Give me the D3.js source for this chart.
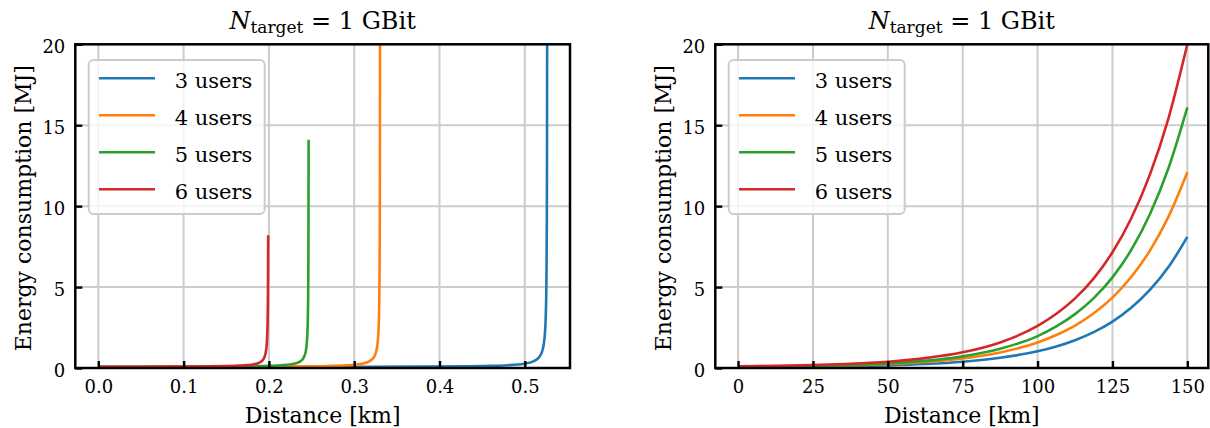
<!DOCTYPE html>
<html><head><meta charset="utf-8">
<script src="https://cdn.jsdelivr.net/npm/d3@7"></script>
<style>
html,body{margin:0;padding:0;background:#fff;}
svg{display:block;}
text{font-family:'DejaVu Serif','Liberation Serif',serif;fill:#000;}
</style></head><body>
<svg id="chart" width="1210" height="428"></svg>
<script>
// ---------- data ----------
const seriesLabels = ["3 users", "4 users", "5 users", "6 users"];
const yTicks = [0, 5, 10, 15, 20];
const yTickLabels = ["0", "5", "10", "15", "20"];
const xTicksShort = [0, 0.1, 0.2, 0.3, 0.4, 0.5];
const xTickLabelsShort = ["0.0", "0.1", "0.2", "0.3", "0.4", "0.5"];
const xTicksLong = [0, 25, 50, 75, 100, 125, 150];
const xTickLabelsLong = ["0", "25", "50", "75", "100", "125", "150"];

// left panel (short distances, km)
const shortDist3 = [0, 0.1, 0.2, 0.3, 0.38, 0.43, 0.46, 0.48, 0.4915, 0.5015, 0.5085, 0.5135, 0.5175, 0.5205, 0.5225, 0.5237, 0.5247, 0.5254, 0.5258, 0.52605, 0.5262];
const shortEnergy3 = [0.052, 0.054, 0.059, 0.067, 0.082, 0.103, 0.132, 0.171, 0.214, 0.284, 0.379, 0.509, 0.718, 1.057, 1.565, 2.22, 3.43, 5.59, 8.75, 13.6, 20.3];
const shortDist4 = [0, 0.05, 0.1, 0.15, 0.2, 0.24, 0.27, 0.29, 0.303, 0.3105, 0.3155, 0.3205, 0.3235, 0.3255, 0.327, 0.328, 0.3288, 0.3294, 0.3298, 0.33005, 0.33025, 0.33028];
const shortEnergy4 = [0.064, 0.066, 0.07, 0.076, 0.085, 0.101, 0.126, 0.164, 0.217, 0.28, 0.357, 0.51, 0.707, 0.97, 1.36, 1.89, 2.76, 4.23, 6.62, 10.27, 18.45, 20.9];
const shortDist5 = [0, 0.05, 0.1, 0.15, 0.18, 0.2, 0.215, 0.225, 0.2318, 0.2368, 0.2398, 0.2418, 0.2433, 0.2443, 0.2451, 0.2457, 0.2461, 0.24635, 0.24655];
const shortEnergy5 = [0.074, 0.078, 0.084, 0.096, 0.112, 0.135, 0.17, 0.221, 0.293, 0.41, 0.56, 0.76, 1.06, 1.46, 2.12, 3.24, 5.06, 7.84, 14.1];
const shortDist6 = [0, 0.05, 0.1, 0.13, 0.15, 0.165, 0.175, 0.1815, 0.1865, 0.1895, 0.1925, 0.1945, 0.196, 0.197, 0.1978, 0.1984, 0.1988, 0.19905, 0.19914];
const shortEnergy6 = [0.075, 0.079, 0.089, 0.102, 0.119, 0.144, 0.178, 0.221, 0.283, 0.35, 0.474, 0.64, 0.889, 1.22, 1.77, 2.7, 4.2, 6.5, 8.2];

// right panel (long distances, km)
const longDist = [0, 12.5, 25, 37.5, 50, 62.5, 75, 87.5, 100, 106.25, 112.5, 118.75, 125, 131.25, 137.5, 143.75, 150];
const longEnergy3 = [0.055, 0.066, 0.083, 0.113, 0.163, 0.248, 0.39, 0.63, 1.03, 1.33, 1.72, 2.22, 2.87, 3.72, 4.82, 6.25, 8.1];
const longEnergy4 = [0.066, 0.083, 0.10, 0.15, 0.23, 0.37, 0.59, 0.96, 1.58, 2.04, 2.62, 3.38, 4.35, 5.62, 7.25, 9.37, 12.1];
const longEnergy5 = [0.07, 0.09, 0.12, 0.18, 0.28, 0.44, 0.72, 1.19, 1.97, 2.57, 3.33, 4.32, 5.6, 7.29, 9.5, 12.37, 16.1];
const longEnergy6 = [0.11, 0.14, 0.19, 0.26, 0.39, 0.61, 0.97, 1.58, 2.6, 3.35, 4.3, 5.54, 7.15, 9.24, 11.95, 15.46, 20.0];

// ---------- styles / layout ----------
const colors = ["#1f77b4", "#ff7f0e", "#2ca02c", "#d62728"];
const plotTop = 44.3, plotBottom = 368;

const panels = [
  {
    left: 75.3, right: 570, xDomain: [-0.027, 0.553],
    xTicks: xTicksShort, xLabels: xTickLabelsShort, curve: d3.curveMonotoneX,
    series: [[shortDist3, shortEnergy3], [shortDist4, shortEnergy4], [shortDist5, shortEnergy5], [shortDist6, shortEnergy6]]
  },
  {
    left: 715.3, right: 1208.3, xDomain: [-7.6, 157],
    xTicks: xTicksLong, xLabels: xTickLabelsLong, curve: d3.curveMonotoneX,
    series: [[longDist, longEnergy3], [longDist, longEnergy4], [longDist, longEnergy5], [longDist, longEnergy6]]
  }
];

const svg = d3.select("#chart");

panels.forEach((p, pi) => {
  const x = d3.scaleLinear().domain(p.xDomain).range([p.left, p.right]);
  const y = d3.scaleLinear().domain([0, 20]).range([plotBottom, plotTop]);
  const g = svg.append("g");
  const w = p.right - p.left, h = plotBottom - plotTop;

  const clipId = "clip" + pi;
  svg.append("clipPath").attr("id", clipId)
    .append("rect").attr("x", p.left).attr("y", plotTop).attr("width", w).attr("height", h);

  // grid
  const grid = g.append("g");
  grid.selectAll("line.gx").data(p.xTicks).join("line").attr("class", "gx")
    .attr("x1", d => x(d)).attr("x2", d => x(d)).attr("y1", plotTop).attr("y2", plotBottom)
    .attr("stroke", "#cccccc").attr("stroke-width", 2);
  grid.selectAll("line.gy").data(yTicks).join("line").attr("class", "gy")
    .attr("x1", p.left).attr("x2", p.right).attr("y1", d => y(d)).attr("y2", d => y(d))
    .attr("stroke", "#cccccc").attr("stroke-width", 2);

  // lines
  const line = d3.line().x(d => x(d[0])).y(d => y(d[1])).curve(p.curve);
  const lg = g.append("g").attr("clip-path", `url(#${clipId})`);
  p.series.forEach((s, i) => {
    const pts = s[0].map((v, k) => [v, s[1][k]]);
    lg.append("path").datum(pts).attr("d", line)
      .attr("fill", "none").attr("stroke", colors[i]).attr("stroke-width", 2.6)
      .attr("stroke-linejoin", "round").attr("stroke-linecap", "butt");
  });

  // axes
  const xAxis = d3.axisBottom(x).tickValues(p.xTicks).tickFormat((d, i) => p.xLabels[i]).tickSize(-7).tickPadding(0);
  const xa = g.append("g").attr("transform", `translate(0,${plotBottom})`).call(xAxis);
  xa.select(".domain").remove();
  xa.selectAll(".tick line").attr("stroke", "#000").attr("stroke-width", 2.4);
  xa.selectAll(".tick text").attr("y", 25).attr("dy", null)
    .attr("font-family", "'DejaVu Serif', serif").attr("font-size", 18).attr("fill", "#000");

  const yAxis = d3.axisLeft(y).tickValues(yTicks).tickFormat((d, i) => yTickLabels[i]).tickSize(-7).tickPadding(10);
  const ya = g.append("g").attr("transform", `translate(${p.left},0)`).call(yAxis);
  ya.select(".domain").remove();
  ya.selectAll(".tick line").attr("stroke", "#000").attr("stroke-width", 2.4);
  ya.selectAll(".tick text").attr("x", -10).attr("dy", 8)
    .attr("font-family", "'DejaVu Serif', serif").attr("font-size", 18).attr("fill", "#000");

  // spines
  g.append("rect").attr("x", p.left).attr("y", plotTop).attr("width", w).attr("height", h)
    .attr("fill", "none").attr("stroke", "#000").attr("stroke-width", 2.5);

  const cx = (p.left + p.right) / 2;
  // title
  const t = g.append("text").attr("x", cx).attr("y", 29.3).attr("text-anchor", "middle").attr("font-size", 24);
  t.append("tspan").attr("font-style", "italic").text("N");
  t.append("tspan").attr("font-size", 17).attr("dy", 4).text("target");
  t.append("tspan").attr("dy", -4).text(" = 1 GBit");

  // axis labels
  g.append("text").attr("x", cx).attr("y", 423).attr("text-anchor", "middle")
    .attr("font-size", 22).text("Distance [km]");
  g.append("text").attr("transform", `translate(${p.left - 44.5},${(plotTop + plotBottom) / 2 + 2}) rotate(-90)`)
    .attr("text-anchor", "middle").attr("font-size", 22).text("Energy consumption [MJ]");

  // legend
  const lx = p.left + 13.4, ly = 60;
  const leg = g.append("g");
  leg.append("rect").attr("x", lx).attr("y", ly).attr("width", 176).attr("height", 154)
    .attr("rx", 5).attr("fill", "#fff").attr("fill-opacity", 0.8)
    .attr("stroke", "#cccccc").attr("stroke-width", 2);
  seriesLabels.forEach((lab, i) => {
    const yy = 78.3 + i * 37;
    leg.append("line").attr("x1", lx + 10.3).attr("x2", lx + 66.3).attr("y1", yy).attr("y2", yy)
      .attr("stroke", colors[i]).attr("stroke-width", 2.6);
    leg.append("text").attr("x", lx + 86).attr("y", yy + 10).attr("font-size", 21).text(lab);
  });
});
</script>
</body></html>
